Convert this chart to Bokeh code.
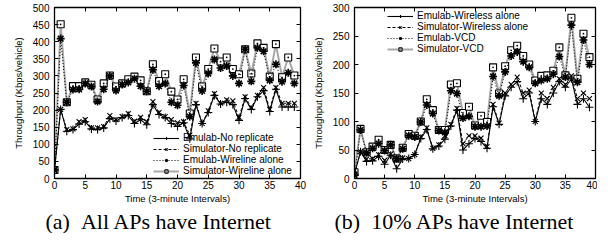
from bokeh.plotting import figure
from bokeh.models import Legend, LegendItem, LinearAxis, Title, FixedTicker, Range1d
from bokeh.layouts import row
from bokeh.embed import file_html
from bokeh.resources import INLINE

t = list(range(40))
x_ticks = [0, 5, 10, 15, 20, 25, 30, 35, 40]
a_y_ticks = [0, 50, 100, 150, 200, 250, 300, 350, 400, 450, 500]
b_y_ticks = [0, 50, 100, 150, 200, 250, 300]

# (a) All APs have Internet
a_emu_norep = [25, 202, 138, 143, 159, 166, 145, 143, 148, 175, 168, 178, 184, 161, 172, 157, 216, 187, 178, 161,
               152, 163, 116, 216, 161, 193, 243, 218, 223, 216, 170, 234, 202, 239, 257, 196, 261, 209, 209, 209]
a_sim_norep = [25, 202, 143, 145, 166, 172, 148, 148, 152, 184, 172, 181, 190, 168, 179, 166, 225, 193, 181, 172,
               163, 166, 127, 220, 161, 198, 248, 220, 230, 227, 179, 239, 207, 243, 266, 202, 266, 220, 220, 220]
a_emu_wire = [25, 409, 223, 260, 261, 278, 269, 225, 261, 300, 257, 275, 281, 292, 270, 255, 318, 270, 278, 223,
              214, 272, 181, 338, 256, 307, 348, 323, 329, 300, 278, 378, 284, 382, 372, 287, 334, 283, 309, 278]
a_sim_wire = [25, 451, 223, 270, 270, 281, 274, 231, 278, 301, 269, 278, 290, 298, 287, 255, 334, 285, 305, 254,
              231, 290, 190, 354, 269, 320, 380, 342, 354, 320, 305, 378, 307, 395, 382, 298, 393, 296, 354, 301]
a_labels = ["Emulab-No replicate", "Simulator-No replicate", "Emulab-Wireline alone", "Simulator-Wireline alone"]

# (b) 10% APs have Internet
b_emu_wless = [8, 47, 30, 31, 39, 25, 41, 17, 34, 35, 42, 70, 86, 52, 57, 69, 92, 120, 50, 61,
               70, 65, 53, 126, 95, 145, 160, 170, 140, 150, 100, 140, 130, 150, 170, 160, 175, 130, 140, 125]
b_sim_wless = [8, 47, 34, 35, 42, 32, 43, 32, 36, 35, 42, 73, 89, 53, 59, 75, 95, 123, 61, 75,
               75, 71, 56, 130, 97, 150, 165, 178, 150, 155, 100, 150, 140, 160, 175, 165, 180, 140, 150, 140]
b_emu_vcd = [6, 85, 45, 53, 61, 49, 59, 35, 52, 75, 73, 99, 129, 114, 84, 81, 154, 149, 106, 109,
             91, 91, 92, 179, 145, 187, 215, 222, 205, 195, 167, 172, 175, 183, 214, 178, 269, 169, 243, 200]
b_sim_vcd = [11, 87, 46, 56, 68, 50, 59, 35, 54, 78, 75, 100, 139, 120, 85, 85, 165, 167, 115, 126,
             93, 110, 99, 195, 149, 197, 225, 233, 215, 200, 172, 180, 181, 189, 230, 181, 282, 175, 254, 213]
b_labels = ["Emulab-Wireless alone", "Simulator-Wireless alone", "Emulab-VCD", "Simulator-VCD"]

SANS = "Liberation Sans"
SERIF = "Liberation Serif"

STYLES = [
    dict(color="black", dash="solid", width=1.1, marker="cross", msize=8, mwidth=1.1),
    dict(color="black", dash="3 2", width=1.0, marker="x", msize=7, mwidth=1.1),
    dict(color="black", dash="1 2", width=1.0, marker="asterisk", msize=8, mwidth=1.6),
    dict(color="#a8a8a8", dash="solid", width=2.0, marker="square_dot", msize=7, mwidth=1.1),
]


def mirror_axis(ticker):
    ax = LinearAxis(ticker=FixedTicker(ticks=ticker))
    ax.major_label_text_font_size = "0px"
    ax.major_label_text_color = None
    ax.major_label_standoff = 0
    ax.major_tick_in = 4
    ax.major_tick_out = 0
    ax.axis_line_color = None
    ax.minor_tick_line_color = None
    ax.major_tick_line_color = "black"
    return ax


def panel(series, labels, ymax, yticks, width, border_left, border_right, legend_loc, caption, cap_offset):
    p = figure(width=width, height=233, output_backend="svg", toolbar_location=None,
               x_range=Range1d(0, 40), y_range=Range1d(0, ymax),
               min_border_left=border_left, min_border_right=border_right,
               min_border_top=7, min_border_bottom=50)
    p.background_fill_color = "white"
    p.border_fill_color = "white"
    p.outline_line_color = "black"
    p.outline_line_width = 1.3
    p.xgrid.visible = False
    p.ygrid.visible = False

    p.xaxis.ticker = FixedTicker(ticks=x_ticks)
    p.yaxis.ticker = FixedTicker(ticks=yticks)
    for ax in (p.xaxis[0], p.yaxis[0]):
        ax.major_tick_in = 4
        ax.major_tick_out = 0
        ax.minor_tick_line_color = None
        ax.axis_line_color = "black"
        ax.major_label_text_font = SANS
        ax.major_label_text_font_size = "10px"
        ax.major_label_text_color = "black"
        ax.axis_label_text_font = SANS
        ax.axis_label_text_font_size = "9.5px"
        ax.axis_label_text_font_style = "normal"
        ax.axis_label_text_color = "black"
    p.xaxis.axis_label = "Time (3-minute Intervals)"
    p.yaxis.axis_label = "Throughput (Kbps/vehicle)"
    p.xaxis.major_label_standoff = 2
    p.xaxis.axis_label_standoff = 1
    p.yaxis.major_label_standoff = 5
    p.yaxis.axis_label_standoff = 6

    p.add_layout(mirror_axis(x_ticks), "above")
    p.add_layout(mirror_axis(yticks), "right")

    rends = {}
    for i in [3, 2, 1, 0]:
        st = STYLES[i]
        lr = p.line(t, series[i], line_color=st["color"], line_dash=st["dash"], line_width=st["width"])
        sr = p.scatter(t, series[i], marker=st["marker"], size=st["msize"], line_color="black",
                       line_width=st["mwidth"], fill_color="white")
        rends[i] = [lr, sr]
    items = [LegendItem(label=labels[i], renderers=rends[i]) for i in range(4)]
    leg = Legend(items=items, location=legend_loc)
    leg.label_text_font = SANS
    leg.label_text_font_size = "10px"
    leg.label_text_color = "black"
    leg.label_height = 8
    leg.glyph_height = 8
    leg.glyph_width = 26
    leg.label_standoff = 4
    leg.spacing = 0
    leg.padding = 2
    leg.margin = 0
    leg.border_line_color = None
    leg.background_fill_alpha = 0
    p.add_layout(leg)

    cap = Title(text=caption, text_font=SERIF, text_font_size="22px", text_font_style="normal",
                text_color="black", align="left", offset=cap_offset, standoff=0)
    p.add_layout(cap, "below")
    return p


pa = panel([a_emu_norep, a_sim_norep, a_emu_wire, a_sim_wire], a_labels, 500, a_y_ticks,
           width=306, border_left=54, border_right=6, legend_loc=(99, 2),
           caption="(a)\u2002All APs have Internet", cap_offset=-9)
pb = panel([b_emu_wless, b_sim_wless, b_emu_vcd, b_sim_vcd], b_labels, 300, b_y_ticks,
           width=291, border_left=48, border_right=2, legend_loc=(33, 124),
           caption="(b)\u200210% APs have Internet", cap_offset=-20)

layout = row(pa, pb)
open("out.html", "w").write(file_html(layout, INLINE))
